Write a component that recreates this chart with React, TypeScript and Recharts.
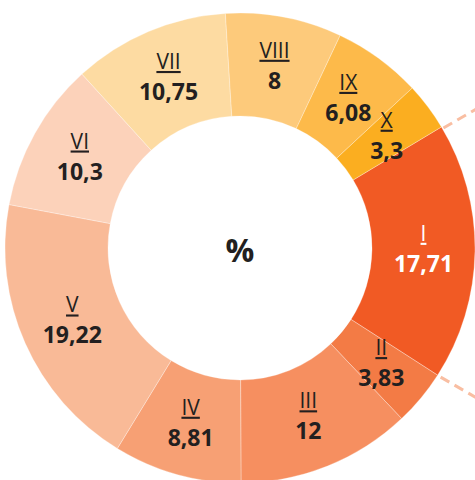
import React from 'react';
import { PieChart, Pie, Cell } from 'recharts';

const categories = ['I', 'II', 'III', 'IV', 'V', 'VI', 'VII', 'VIII', 'IX', 'X'];
const values = [17.71, 3.83, 12, 8.81, 19.22, 10.3, 10.75, 8, 6.08, 3.3];
const colors = [
  '#F15A24', '#F37B45', '#F68F60', '#F7A074', '#F9BA97',
  '#FCD2BA', '#FDDBA2', '#FDCA7B', '#FDBA4A', '#FBAE20',
];
const labelColors = ['#FFFFFF', '#231F20', '#231F20', '#231F20', '#231F20', '#231F20', '#231F20', '#231F20', '#231F20', '#231F20'];

const data = categories.map((c, i) => ({ name: c, value: values[i] }));

const RAD = Math.PI / 180;
const FONT = '"Open Sans", "Noto Sans", sans-serif';
const CONNECTOR_ANGLE = 30;
const CONNECTOR_LEN = 120;

const fmt = (v: number) => String(v).replace('.', ',');

const renderLabel = (props: any) => {
  const { cx, cy, midAngle, innerRadius, outerRadius, index, startAngle, endAngle } = props;
  const r = (innerRadius + outerRadius) / 2;
  const x = cx + r * Math.cos(-midAngle * RAD);
  const y = cy + r * Math.sin(-midAngle * RAD);
  const color = labelColors[index];
  let connectors = null;
  if (index === 0) {
    const sx = cx + outerRadius * Math.cos(-startAngle * RAD);
    const sy = cy + outerRadius * Math.sin(-startAngle * RAD);
    const ex = cx + outerRadius * Math.cos(-endAngle * RAD);
    const ey = cy + outerRadius * Math.sin(-endAngle * RAD);
    const ux = Math.cos(CONNECTOR_ANGLE * RAD) * CONNECTOR_LEN;
    const uy = Math.sin(CONNECTOR_ANGLE * RAD) * CONNECTOR_LEN;
    connectors = (
      <g>
        <line x1={sx + 2} y1={sy + 1} x2={sx + 2 + ux} y2={sy + 1 - uy} stroke="#F9BEA2" strokeWidth={3} strokeDasharray="10 6" />
        <line x1={ex + 3} y1={ey + 2} x2={ex + 3 + ux} y2={ey + 2 + uy} stroke="#F9BEA2" strokeWidth={3} strokeDasharray="10 6" />
      </g>
    );
  }
  return (
    <g key={`lbl-${index}`}>
      {connectors}
      <text
        x={x}
        y={y - 10}
        textAnchor="middle"
        fill={color}
        fontFamily={FONT}
        fontSize={21}
        style={{ textDecoration: 'underline' }}
      >
        {categories[index]}
      </text>
      <text x={x} y={y + 21} textAnchor="middle" fill={color} fontFamily={FONT} fontSize={23} fontWeight={700}>
        {fmt(values[index])}
      </text>
    </g>
  );
};

export default function App() {
  return (
    <div style={{ position: 'absolute', left: 0, top: 0, width: 475, height: 480, overflow: 'hidden', background: '#fff' }}>
      <PieChart width={475} height={480} margin={{ top: 0, right: 0, bottom: 0, left: 0 }}>
        <Pie
          data={data}
          dataKey="value"
          nameKey="name"
          cx={240}
          cy={248}
          innerRadius={132}
          outerRadius={235}
          startAngle={31}
          endAngle={-329}
          paddingAngle={0}
          stroke="#FFFFFF"
          strokeOpacity={0.5}
          strokeWidth={0.6}
          isAnimationActive={false}
          labelLine={false}
          label={renderLabel}
        >
          {data.map((d, i) => (
            <Cell key={d.name} fill={colors[i]} />
          ))}
        </Pie>
        <text x={240} y={262} textAnchor="middle" fill="#231F20" fontFamily={FONT} fontSize={32} fontWeight={700}>
          %
        </text>
      </PieChart>
    </div>
  );
}
